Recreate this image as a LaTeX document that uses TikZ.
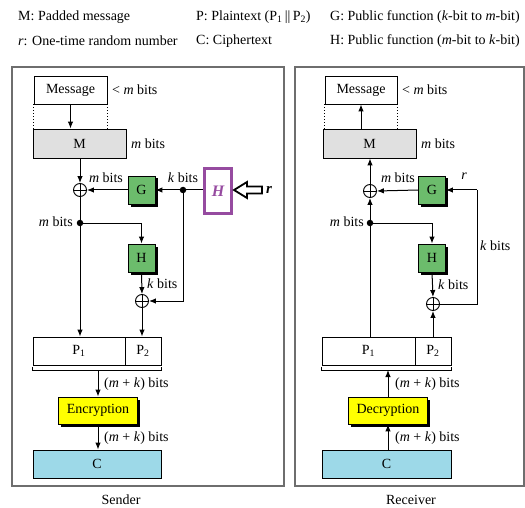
\documentclass[tikz,border=0pt]{standalone}
\usepackage{fontspec}
\setmainfont{Liberation Serif}
\usetikzlibrary{shadows,arrows.meta,calc}
\definecolor{gfill}{RGB}{108,188,108}
\definecolor{yfill}{RGB}{255,255,0}
\definecolor{cfill}{RGB}{157,217,232}
\definecolor{mfill}{RGB}{224,224,224}
\definecolor{pcol}{RGB}{150,75,160}
\definecolor{frm}{RGB}{110,110,110}
\tikzset{
  blk/.style={draw, line width=0.9pt, inner sep=0, anchor=center},
  shad/.style={blk, drop shadow={shadow xshift=2.5pt, shadow yshift=-2.5pt, fill=black, opacity=1}},
  gbox/.style={shad, fill=gfill, minimum width=27, minimum height=28},
  xor/.style={circle, draw, line width=0.9pt, minimum size=13, inner sep=0,
    path picture={\draw[line width=0.7pt] (path picture bounding box.north) -- (path picture bounding box.south)
      (path picture bounding box.west) -- (path picture bounding box.east);}},
  dot/.style={circle, fill, inner sep=0, minimum size=6.5},
  arr/.style={line width=1pt, -{Latex[length=7pt,width=5.5pt]}},
  ln/.style={line width=1pt},
  lbl/.style={inner sep=0},
  frame/.style={draw=frm, line width=1.4pt}
}
\begin{document}
\begin{tikzpicture}[x=1pt,y=-1pt, font=\fontsize{14}{16}\selectfont]
\useasboundingbox (0,0) rectangle (525,508);

% legend
\node[lbl, anchor=west] (l1) at (18,17) {M: Padded message};
\node[lbl, anchor=west] (l2) at (196,17) {P: Plaintext (P\textsubscript{1}\,||\,P\textsubscript{2})};
\node[lbl, anchor=west] (l3) at (330,17) {G: Public function (\textit{k}-bit to \textit{m}-bit)};
\node[lbl, anchor=west] (l4) at (18,41) {\textit{r}: One-time random number};
\node[lbl, anchor=west] (l5) at (196,41) {C: Ciphertext};
\node[lbl, anchor=west] (l6) at (330,41) {H: Public function (\textit{m}-bit to \textit{k}-bit)};

% frames
\draw[frame] (12,67) rectangle (284,486);
\draw[frame] (295,67) rectangle (524,486);
\node[lbl] (sendl) at (121,500) {Sender};
\node[lbl] (recvl) at (411,500) {Receiver};

% ================= Sender =================
\node[blk, minimum width=73, minimum height=28] (msgS) at (70.5,90) {Message};
\node[blk, fill=mfill, minimum width=93, minimum height=29] (MS) at (79.5,143.5) {M};
\node[xor] (xS1) at (80,190) {};
\node[gbox] (GS) at (141.5,190) {G};
\node[dot] (dS1) at (183,190) {};
\node[draw=pcol, line width=3pt, minimum width=27, minimum height=44, inner sep=0, text=pcol, font=\fontsize{16}{18}\selectfont\bfseries\itshape] (HpS) at (218,191) {H};
\node[dot] (dS2) at (80,223) {};
\node[gbox] (HS) at (141.5,258) {H};
\node[xor] (xS2) at (142,301) {};
\node[blk, minimum width=92, minimum height=28] (P1S) at (79,351) {P\textsubscript{1}};
\node[blk, minimum width=36, minimum height=28] (P2S) at (143,351) {P\textsubscript{2}};
\coordinate (bS) at (98,370);
\node[shad, fill=yfill, minimum width=79, minimum height=27] (EncS) at (98,410.5) {Encryption};
\node[blk, fill=cfill, minimum width=128, minimum height=28] (CS) at (97,464) {C};

% hollow arrow and r
\draw[line width=1.8pt, fill=white] (234,190) -- (247,182) -- (247,186.5) -- (262,186.5) -- (262,193.5) -- (247,193.5) -- (247,198) -- cycle;
\node[lbl, font=\fontsize{15}{16}\selectfont\bfseries\itshape] (rS) at (269,190) {r};

% sender labels
\node[lbl, anchor=west] at (112,90) {< \textit{m} bits};
\node[lbl, anchor=west] at (131,143.5) {\textit{m} bits};
\node[lbl] at (106,178) {\textit{m} bits};
\node[lbl] at (183,178) {\textit{k} bits};
\node[lbl, anchor=east] at (73,222) {\textit{m} bits};
\node[lbl, anchor=west] at (147,284) {\textit{k} bits};
\node[lbl, anchor=west] at (104,384) {(\textit{m} + \textit{k}) bits};
\node[lbl, anchor=west] at (104,438) {(\textit{m} + \textit{k}) bits};

% sender connectors
\draw[arr] (msgS.south) -- (msgS.south |- MS.north);
\draw[ln, dotted] (msgS.south west) -- (msgS.south west |- MS.north);
\draw[ln, dotted] (msgS.south east) -- (msgS.south east |- MS.north);
\draw[arr] (xS1 |- MS.south) -- (xS1.north);
\draw[arr] (HpS.west |- dS1) -- (GS.east);
\draw[arr] (GS.west) -- (xS1.east);
\draw[ln] (xS1.south) -- (dS2);
\draw[arr] (dS2) -- (dS2 |- P1S.north);
\draw[arr] (dS2) -| (HS.north);
\draw[arr] (HS.south) -- (xS2.north);
\draw[arr] (dS1) |- (xS2.east);
\draw[arr] (xS2.south) -- (xS2 |- P2S.north);
\draw[ln] ($(P1S.south west)+(0,2)$) -- ($(P1S.south west)+(0,5)$) -- ($(P2S.south east)+(0,5)$) -- ($(P2S.south east)+(0,2)$);
\draw[arr] (bS) -- (EncS.north);
\draw[arr] (EncS.south) -- (EncS.south |- CS.north);

% ================= Receiver =================
\node[blk, minimum width=72, minimum height=28] (msgR) at (361,90) {Message};
\node[blk, fill=mfill, minimum width=93, minimum height=29] (MR) at (369.5,143.5) {M};
\node[xor] (xR1) at (370,191) {};
\node[gbox] (GR) at (432,190) {G};
\coordinate (cR) at (477,190);
\node[dot] (dR2) at (370,223) {};
\node[gbox] (HR) at (432,258) {H};
\node[xor] (xR2) at (433,304) {};
\node[blk, minimum width=93, minimum height=28] (P1R) at (368.5,351) {P\textsubscript{1}};
\node[blk, minimum width=36, minimum height=28] (P2R) at (433,351) {P\textsubscript{2}};
\coordinate (bR) at (388,370);
\node[shad, fill=yfill, minimum width=79, minimum height=27] (DecR) at (388,410.5) {Decryption};
\node[blk, fill=cfill, minimum width=129, minimum height=28] (CR) at (386.5,464) {C};

% receiver labels
\node[lbl, anchor=west] at (402,90) {< \textit{m} bits};
\node[lbl, anchor=west] at (421,143.5) {\textit{m} bits};
\node[lbl] at (398,178) {\textit{m} bits};
\node[lbl] at (464,176) {\textit{r}};
\node[lbl, anchor=west] at (480,246) {\textit{k} bits};
\node[lbl, anchor=east] at (364,222) {\textit{m} bits};
\node[lbl, anchor=west] at (438,285) {\textit{k} bits};
\node[lbl, anchor=west] at (395,384) {(\textit{m} + \textit{k}) bits};
\node[lbl, anchor=west] at (395,438) {(\textit{m} + \textit{k}) bits};

% receiver connectors
\draw[arr] (msgR.south |- MR.north) -- (msgR.south);
\draw[ln, dotted] (msgR.south west) -- (msgR.south west |- MR.north);
\draw[ln, dotted] (msgR.south east) -- (msgR.south east |- MR.north);
\draw[arr] (xR1.north) -- (xR1 |- MR.south);
\draw[arr] (GR.west) -- (xR1.east);
\draw[arr] (cR) -- (GR.east);
\draw[ln] (xR2.east) -| (cR);
\draw[arr] (xR1 |- P1R.north) -- (xR1.south);
\draw[arr] (dR2) -| (HR.north);
\draw[arr] (HR.south) -- (xR2.north);
\draw[arr] (xR2 |- P2R.north) -- (xR2.south);
\draw[ln] ($(P1R.south west)+(0,2)$) -- ($(P1R.south west)+(0,5)$) -- ($(P2R.south east)+(0,5)$) -- ($(P2R.south east)+(0,2)$);
\draw[arr] (DecR.north) -- (bR);
\draw[arr] (CR.north -| DecR) -- (DecR.south);
\end{tikzpicture}
\end{document}
